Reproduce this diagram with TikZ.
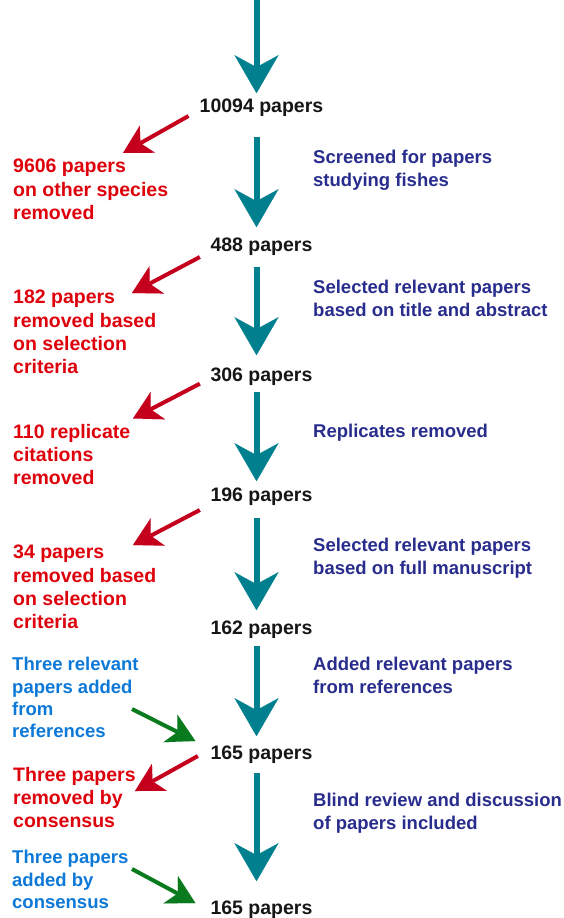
\documentclass[tikz,border=0pt]{standalone}
\usepackage{fontspec}
\setmainfont{Liberation Sans}
\usetikzlibrary{arrows.meta}
\definecolor{flowteal}{RGB}{0,128,142}
\definecolor{navytext}{RGB}{40,44,140}
\definecolor{redtext}{RGB}{222,0,10}
\definecolor{redarrow}{RGB}{196,0,28}
\definecolor{bluetext}{RGB}{12,120,215}
\definecolor{greenarrow}{RGB}{10,122,30}
\definecolor{numtext}{RGB}{22,22,22}
\begin{document}
\begin{tikzpicture}[x=1pt,y=-1pt,
  num/.style={inner sep=0pt, anchor=base, text=numtext, font=\bfseries\fontsize{19.5}{23}\selectfont},
  steplab/.style={inner sep=0pt, anchor=north west, align=left, text=navytext, font=\bfseries\fontsize{18.5}{22.5}\selectfont},
  remlab/.style={inner sep=0pt, anchor=north west, align=left, text=redtext, font=\bfseries\fontsize{19.5}{23.3}\selectfont},
  addlab/.style={inner sep=0pt, anchor=north west, align=left, text=bluetext, font=\bfseries\fontsize{18.5}{22.4}\selectfont},
  flow/.style={draw=flowteal, line width=6pt, -{Stealth[length=38pt,width=44pt,inset=12pt,line width=0.01pt]}},
  remarrow/.style={draw=redarrow, line width=4pt, -{Stealth[length=28pt,width=31pt,inset=8pt,line width=0.01pt]}},
  addarrow/.style={draw=greenarrow, line width=4pt, -{Stealth[length=28pt,width=31pt,inset=8pt,line width=0.01pt]}}
]
\useasboundingbox (0,0) rectangle (563,918);

% number nodes
\node[num] (n1) at (261.5,112.5) {10094 papers};
\node[num] (n2) at (261.5,251) {488 papers};
\node[num] (n3) at (261.5,381) {306 papers};
\node[num] (n4) at (261.5,501) {196 papers};
\node[num] (n5) at (261.5,634) {162 papers};
\node[num] (n6) at (261.5,759) {165 papers};
\node[num] (n7) at (261.5,914) {165 papers};
\coordinate (top) at (256.5,-2);

% step labels (right)
\node[steplab] (s1) at (313,150) {Screened for papers\\studying fishes};
\node[steplab] (s2) at (313,280) {Selected relevant papers\\based on title and abstract};
\node[steplab] (s3) at (313,424) {Replicates removed};
\node[steplab] (s4) at (313,538) {Selected relevant papers\\based on full manuscript};
\node[steplab] (s5) at (313,657) {Added relevant papers\\from references};
\node[steplab] (s6) at (313,793) {Blind review and discussion\\of papers included};

% removal / addition labels (left)
\node[remlab] (r1) at (13,159) {9606 papers\\on other species\\removed};
\node[remlab] (r2) at (13,290) {182 papers\\removed based\\on selection\\criteria};
\node[remlab] (r3) at (13,424) {110 replicate\\citations\\removed};
\node[remlab] (r4) at (13,545) {34 papers\\removed based\\on selection\\criteria};
\node[addlab] (b1) at (12,657) {Three relevant\\papers added\\from\\references};
\node[remlab] (r5) at (13,767) {Three papers\\removed by\\consensus};
\node[addlab] (b2) at (12,850) {Three papers\\added by\\consensus};

% main flow arrows
\draw[flow] (top) -- ([shift={(-5,-5.5)}]n1.north);
\draw[flow] ([shift={(-5,20)}]n1.south) -- ([shift={(-5,-10)}]n2.north);
\draw[flow] ([shift={(-5,12)}]n2.south) -- ([shift={(-5,-12)}]n3.north);
\draw[flow] ([shift={(-5,7)}]n3.south) -- ([shift={(-5,-6)}]n4.north);
\draw[flow] ([shift={(-5,13)}]n4.south) -- ([shift={(-5,-10)}]n5.north);
\draw[flow] ([shift={(-5,8)}]n5.south) -- ([shift={(-5,-9)}]n6.north);
\draw[flow] ([shift={(-5,10)}]n6.south) -- ([shift={(-5,-19)}]n7.north);

% removal arrows
\draw[remarrow] ([shift={(-11,3.5)}]n1.base west) -- ([shift={(110,-6)}]r1.north west);
\draw[remarrow] ([shift={(-10.5,6)}]n2.base west) -- ([shift={(119,3)}]r2.north west);
\draw[remarrow] ([shift={(-10.5,2.7)}]n3.base west) -- ([shift={(120,-5.5)}]r3.north west);
\draw[remarrow] ([shift={(-10.5,9)}]n4.base west) -- ([shift={(120,0)}]r4.north west);
\draw[remarrow] ([shift={(-12.5,-3)}]n6.base west) -- ([shift={(122,24)}]r5.north west);

% addition arrows
\draw[addarrow] ([shift={(120,52)}]b1.north west) -- ([shift={(-15,-18)}]n6.base west);
\draw[addarrow] ([shift={(120,19)}]b2.north west) -- ([shift={(-15,-11)}]n7.base west);
\end{tikzpicture}
\end{document}
